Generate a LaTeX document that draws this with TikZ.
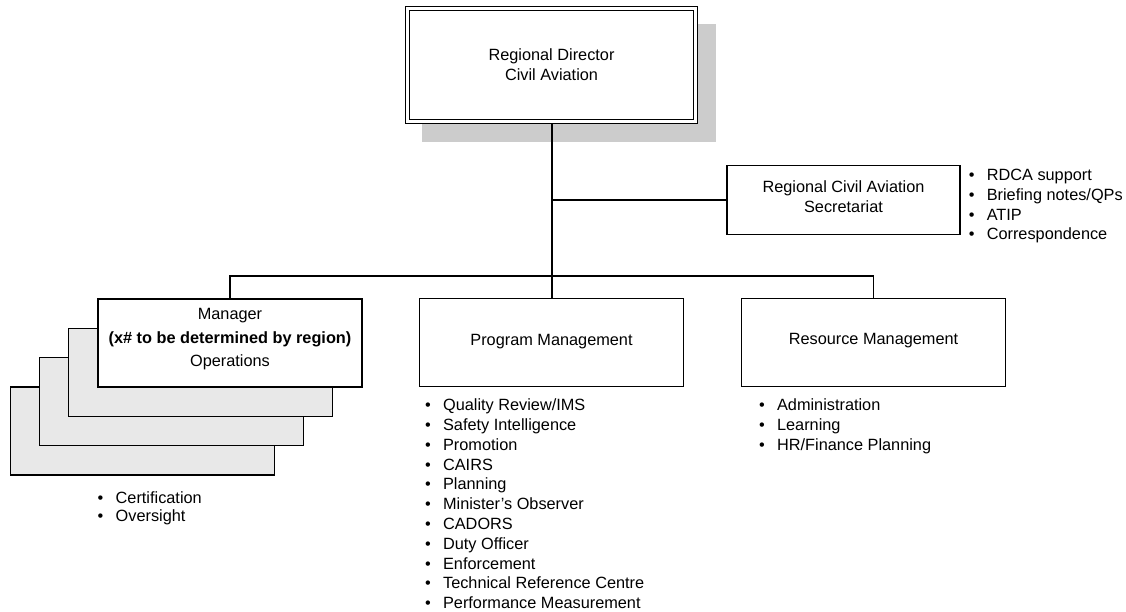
\documentclass[tikz,border=0pt]{standalone}
\usepackage{fontspec}
\setmainfont{Liberation Sans}
\usetikzlibrary{backgrounds,calc}

\definecolor{shadowgray}{gray}{0.80}
\definecolor{stackgray}{gray}{0.91}

% bullet item: bullet in a fixed-width slot, then the text
\newcommand{\bitem}[1]{\makebox[18pt][l]{\textbullet}#1}

\tikzset{
  every node/.style={font=\fontsize{16.3}{19.8}\selectfont},
  unitbox/.style={draw, line width=1.2pt, minimum width=264pt, minimum height=88pt,
                  inner sep=0pt, align=center, fill=white},
  backbox/.style={unitbox, fill=stackgray},
  link/.style={line width=2pt},
  blist/.style={inner sep=0pt, align=left, anchor=north west},
}

\begin{document}
\begin{tikzpicture}[x=1pt, y=-1pt]
  \useasboundingbox (0,0) rectangle (1126,612);

  % director box with double border and a hard drop shadow
  \node[draw, line width=1.1pt, fill=white, minimum width=292pt, minimum height=117pt,
        inner sep=0pt, align=center] (rd) at (551.5,65) {Regional Director\\Civil Aviation};
  \draw[line width=1.1pt] ($(rd.north west)+(4.5,4.5)$) rectangle ($(rd.south east)+(-4.5,-4.5)$);
  \begin{scope}[on background layer]
    \fill[shadowgray] ($(rd.north west)+(17,18)$) rectangle ($(rd.south east)+(18,18)$);
  \end{scope}

  % secretariat
  \node[unitbox, minimum width=233pt, minimum height=69pt] (sec) at (843.5,200)
        {Regional Civil Aviation\\Secretariat\\[-13pt]\mbox{}};
  \node[blist] (seclist) at ($(sec.north east)+(8,4)$)
        {\bitem{RDCA support}\\\bitem{Briefing notes/QPs}\\\bitem{ATIP}\\\bitem{Correspondence}};

  % stacked manager boxes, back to front
  \node[backbox] (mgr3) at (142.1,430.9) {};
  \node[backbox] (mgr2) at (171.4,401.6) {};
  \node[backbox] (mgr1) at (200.7,372.3) {};
  \node[unitbox] (mgr) at (230,343)
        {Manager\\[3.5pt]\textbf{(x\# to be determined by region)}\\[3.5pt]Operations\\[-9pt]\mbox{}};
  \node[blist] (mgrlist) at ($(mgr3.south west)+(88,16)$)
        {\bitem{Certification}\\[-2pt]\bitem{Oversight}};

  % program management
  \node[unitbox] (pgm) at (551.5,342.5) {Program Management\\[-14pt]\mbox{}};
  \node[blist] (pgmlist) at ($(pgm.south west)+(6,11.5)$)
        {\bitem{Quality Review/IMS}\\\bitem{Safety Intelligence}\\\bitem{Promotion}\\
         \bitem{CAIRS}\\\bitem{Planning}\\\bitem{Minister’s Observer}\\\bitem{CADORS}\\
         \bitem{Duty Officer}\\\bitem{Enforcement}\\\bitem{Technical Reference Centre}\\
         \bitem{Performance Measurement}};

  % resource management
  \node[unitbox] (res) at (873.5,342.5) {Resource Management\\[-12pt]\mbox{}};
  \node[blist] (reslist) at ($(res.south west)+(18,11.5)$)
        {\bitem{Administration}\\\bitem{Learning}\\\bitem{HR/Finance Planning}};

  % connectors
  \coordinate (bar) at (552,276);
  \draw[link] (rd.south) -- (pgm.north);
  \draw[line width=1.3pt] (sec.west) -- (sec.west -| rd.south);
  \draw[line width=1.5pt] (mgr.north) -- (mgr.north |- bar) -- (res.north |- bar) -- (res.north);
\end{tikzpicture}
\end{document}
